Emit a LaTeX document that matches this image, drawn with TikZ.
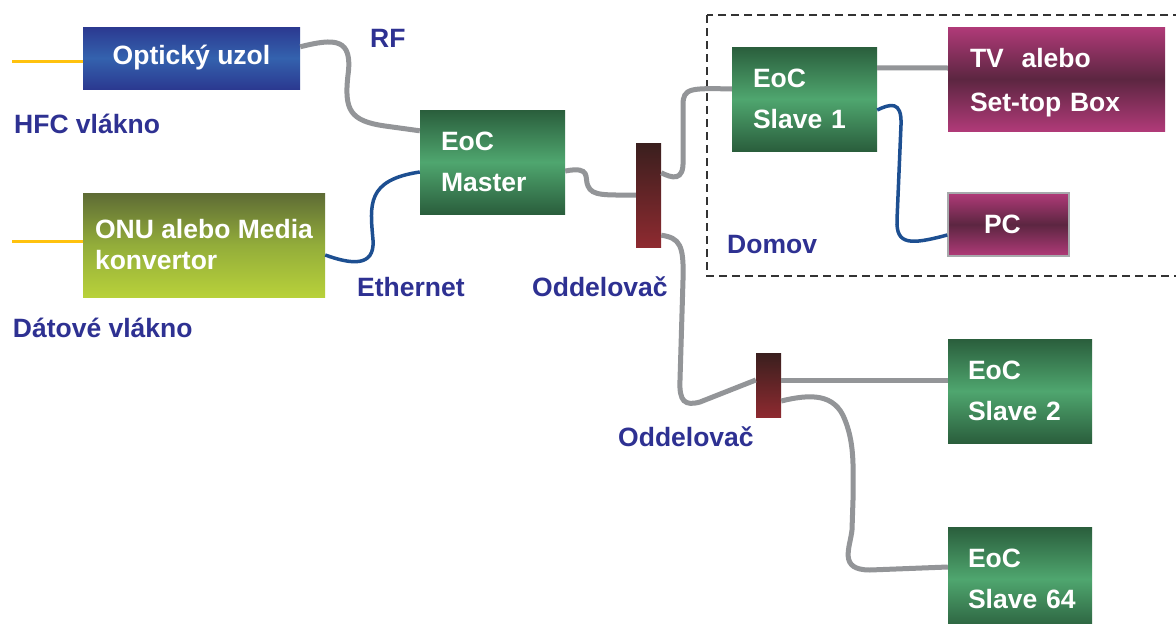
\documentclass[tikz,border=0pt]{standalone}
\usepackage{fontspec}
\setmainfont{Liberation Sans}
\usetikzlibrary{calc}
\definecolor{gd}{HTML}{2A5E3C}
\definecolor{gl}{HTML}{4FA66F}
\definecolor{bd}{HTML}{2B3990}
\definecolor{bl}{HTML}{3462AE}
\definecolor{ot}{HTML}{5E6B35}
\definecolor{om}{HTML}{93AD3A}
\definecolor{ob}{HTML}{B8D13A}
\definecolor{mo}{HTML}{B03A78}
\definecolor{mm}{HTML}{5C2641}
\definecolor{st}{HTML}{3A1F1E}
\definecolor{sb}{HTML}{8E2A30}
\definecolor{lbl}{HTML}{2E3192}
\definecolor{cab}{HTML}{939598}
\definecolor{bcab}{HTML}{1D4F91}
\definecolor{yel}{HTML}{FFC20E}
\definecolor{pcb}{HTML}{A7A9AC}
\tikzset{
  btxt/.style={font=\fontsize{26.5}{41}\selectfont\bfseries, text=white, align=left, inner ysep=0pt, minimum height=104pt},
  greenbox/.style={btxt, top color=gd, bottom color=gd, middle color=gl},
  magbox/.style={btxt, top color=mo, bottom color=mo, middle color=mm},
  splitbox/.style={inner sep=0pt, minimum width=25pt, top color=st, bottom color=sb},
  lab/.style={font=\fontsize{26.5}{32}\selectfont\bfseries, text=lbl, anchor=base west, inner sep=0pt},
  gcable/.style={draw=cab, line width=5pt},
  bcable/.style={draw=bcab, line width=3.5pt},
  ycable/.style={draw=yel, line width=3pt},
}
\begin{document}
\begin{tikzpicture}[x=1pt, y=-1pt]
\clip (0,0) rectangle (1176,624);
\fill[white] (0,0) rectangle (1176,624);
% home area
\draw[draw=black!80, line width=1.5pt, dash pattern=on 8pt off 5pt] (707,15) rectangle (1190,276);
% boxes
\node[btxt, align=center, inner sep=0pt, minimum width=217pt, minimum height=62pt,
      top color=bd, bottom color=bd, middle color=bl] (opt) at (191.5,58) {Optický uzol};
\node[btxt, font=\fontsize{26.5}{31}\selectfont\bfseries, inner xsep=0pt, minimum width=242pt,
      top color=ot, bottom color=ob, middle color=om] (onu) at (204,245) {ONU alebo Media\\konvertor};
\node[greenbox, text width=103pt, inner xsep=21pt] (master) at (492.5,162) {EoC\\Master};
\node[splitbox, minimum height=104pt] (sp1) at (648.5,195) {};
\node[greenbox, text width=103pt, inner xsep=21pt] (s1) at (804.5,99) {EoC\\Slave~1};
\node[magbox, text width=173pt, inner xsep=22pt, font=\fontsize{26.5}{44}\selectfont\bfseries] (tv) at (1056.5,79) {\rule{0pt}{27.3pt}TV\ \ alebo\\Set-top~Box};
\node[magbox, draw=pcb, line width=1.5pt, minimum height=63pt, text width=49pt, inner xsep=36pt] (pc) at (1008.5,224.5) {PC};
\node[splitbox, minimum height=64pt] (sp2) at (768.5,385) {};
\node[greenbox, text width=104pt, inner xsep=20pt] (s2) at (1020,391) {EoC\\Slave~2};
\node[greenbox, text width=104pt, inner xsep=20pt] (s64) at (1020,579) {EoC\\Slave~64};
% fibre ends
\coordinate (f1) at (12,61);
\coordinate (f2) at (12,241.5);
\draw[ycable] (f1) -- ([yshift=-3pt]opt.west);
\draw[ycable] (f2) -- ([yshift=3.5pt]onu.west);
% cables
\draw[gcable] ([yshift=-20pt]opt.north east) .. controls (335,38) and (353,38) .. (348,75)
   .. controls (344,110) and (350,121) .. (385,126) -- ([yshift=-21pt]master.north west);
\draw[bcable] ([yshift=-10pt]onu.east) .. controls (350,264) and (375,268) .. (373,240)
   .. controls (370,205) and (366,180) .. ([yshift=-10pt]master.west);
\draw[gcable] ([yshift=-9pt]master.east) .. controls (592,166) and (584,178) .. (588,186)
   .. controls (592,196) and (605,195) .. (sp1.west);
\draw[gcable] ([yshift=-30pt]sp1.north east) .. controls (672,178) and (684,182) .. (683,160)
   -- (683,105) .. controls (683,88) and (690,88) .. ([yshift=10pt]s1.west);
\draw[gcable] ([yshift=12pt]sp1.south east) .. controls (680,238) and (684,245) .. (683,280)
   -- (680,380) .. controls (679,402) and (685,406) .. (700,402) -- ([yshift=5pt]sp2.west);
\draw[gcable] ([yshift=5pt]sp2.east) -- ([yshift=11pt]s2.west);
\draw[gcable] ([yshift=-16pt]sp2.east) .. controls (810,394) and (835,393) .. (845,420)
   .. controls (855,445) and (853,470) .. (853,500) -- (852,530)
   .. controls (850,548) and (838,570) .. (870,570) -- ([yshift=12pt]s64.west);
\draw[gcable] ([yshift=-21pt]s1.north east) -- ([yshift=11pt]tv.west);
\draw[bcable] ([yshift=-11pt]s1.east) .. controls (890,104) and (902,100) .. (901,125)
   -- (897,220) .. controls (896,245) and (910,245) .. ([yshift=-10.5pt]pc.west);
% labels
\node[lab] (rf) at (370,47) {RF};
\node[lab] (hfc) at (14,133) {HFC vlákno};
\node[lab] (dat) at (12.7,337) {Dátové vlákno};
\node[lab] (eth) at (357,296) {Ethernet};
\node[lab] (odd1) at (532,296) {Oddelovač};
\node[lab] (dom) at (727,253) {Domov};
\node[lab] (odd2) at (618,446) {Oddelovač};
\end{tikzpicture}
\end{document}
